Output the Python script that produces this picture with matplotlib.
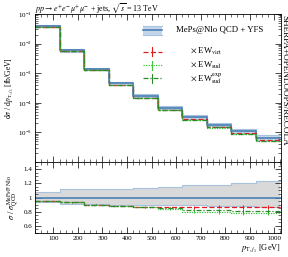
import numpy as np
import matplotlib
matplotlib.use("Agg")
import matplotlib.pyplot as plt
from matplotlib.ticker import FixedLocator, LogLocator, NullFormatter, MultipleLocator

plt.rcParams['font.family'] = ['Liberation Serif', 'DejaVu Serif']
plt.rcParams['mathtext.fontset'] = 'stix'
plt.rcParams['font.size'] = 5.5

# bin edges in pT of leading jet [GeV]
edges = [25, 125, 225, 325, 425, 525, 625, 725, 825, 925, 1025]
# MEPS@NLO QCD + YFS cross section [fb/GeV]
qcd = [0.038, 0.0059, 0.00138, 4.5e-4, 1.7e-4, 6.6e-5, 3.3e-5, 1.8e-5, 1.1e-5, 6.5e-6]
# relative uncertainty band of the QCD prediction
band_hi = [1.08, 1.12, 1.12, 1.12, 1.14, 1.15, 1.17, 1.18, 1.20, 1.23]
band_lo = [0.94, 0.91, 0.91, 0.90, 0.90, 0.90, 0.89, 0.88, 0.88, 0.87]
# ratios to QCD
r_virt = [0.95, 0.93, 0.90, 0.885, 0.87, 0.86, 0.86, 0.87, 0.87, 0.87]
r_sud = [0.95, 0.93, 0.90, 0.88, 0.86, 0.84, 0.80, 0.79, 0.78, 0.78]
r_sudexp = [0.95, 0.93, 0.90, 0.88, 0.86, 0.85, 0.82, 0.82, 0.81, 0.81]
err = [0.002, 0.003, 0.004, 0.005, 0.007, 0.01, 0.015, 0.02, 0.025, 0.03]

blue = '#4a7fb5'
lblue = '#a9c3df'
red = '#e41a1c'
lgreen = '#3cc43c'
dgreen = '#2a8a2a'


def step(ax, y, **kw):
    yy = list(y) + [y[-1]]
    return ax.step(edges, yy, where='post', **kw)


def band(ax, lo, hi, fc, ec):
    ax.fill_between(edges, list(lo) + [lo[-1]], list(hi) + [hi[-1]], step='post',
                    facecolor=fc, edgecolor='none')
    step(ax, lo, color=ec, lw=0.8)
    step(ax, hi, color=ec, lw=0.8)


centers = [(edges[i] + edges[i + 1]) / 2 for i in range(len(qcd))]

fig = plt.figure(figsize=(2.88, 2.57), dpi=100)
ax = fig.add_axes([35 / 288, 95 / 257, 246 / 288, 148 / 257])
axr = fig.add_axes([35 / 288, 24 / 257, 246 / 288, 71 / 257])

# main panel
q = np.array(qcd)
band(ax, q * np.array(band_lo), q * np.array(band_hi), '#c3d5ea', lblue)
step(ax, q, color=blue, lw=1.2)
styles = [(r_virt, red, (0, (4, 2))), (r_sud, lgreen, (0, (1, 1))), (r_sudexp, dgreen, (0, (4, 1.5, 1, 1.5)))]
for r, c, ls in styles:
    step(ax, q * np.array(r), color=c, lw=0.9, ls=ls)

ax.set_yscale('log')
ax.set_xlim(25, 1028)
ax.set_ylim(1e-6, 1e-1)
ax.yaxis.set_major_locator(FixedLocator([1e-5, 1e-4, 1e-3, 1e-2, 1e-1]))
ax.yaxis.set_minor_locator(LogLocator(base=10, subs=np.arange(2, 10), numticks=20))
ax.yaxis.set_minor_formatter(NullFormatter())
ax.set_xticklabels([])
ax.set_ylabel(r'd$\sigma$ / d$p_{\mathrm{T},j_1}$ [fb/GeV]', labelpad=2)
fig.text(35 / 288, 0.995, r'$pp \rightarrow e^{+}e^{-}\mu^{+}\mu^{-}$ + jets, $\sqrt{s}$ = 13 TeV',
         ha='left', va='top', fontsize=5.8)
fig.text(0.987, 0.94, 'SHERPA+OPENLOOPS/RECOLA', rotation=270, ha='center', va='top', fontsize=6.6)

# legend
lx0, lx1 = 0.44, 0.515
ys = [0.89, 0.745, 0.655, 0.565]
ax.fill_between([lx0, lx1], [ys[0] - 0.03] * 2, [ys[0] + 0.03] * 2, transform=ax.transAxes,
                facecolor='#c3d5ea', edgecolor='none')
for dy in (-0.03, 0.03):
    ax.plot([lx0, lx1], [ys[0] + dy] * 2, transform=ax.transAxes, color=lblue, lw=0.8)
ax.plot([lx0, lx1], [ys[0]] * 2, transform=ax.transAxes, color=blue, lw=1.2)
ax.text(0.575, ys[0], 'MePs@Nlo QCD + YFS', transform=ax.transAxes, va='center', fontsize=6.3)
labels = [r'$\times$ EW$_{\mathrm{virt}}$', r'$\times$ EW$_{\mathrm{sud}}$', r'$\times$ EW$_{\mathrm{sud}}^{\mathrm{exp}}$']
for (r, c, ls), y, lab in zip(styles, ys[1:], labels):
    ax.plot([lx0, lx1], [y, y], transform=ax.transAxes, color=c, lw=0.9, ls=ls)
    ax.plot([(lx0 + lx1) / 2] * 2, [y - 0.03, y + 0.03], transform=ax.transAxes, color=c, lw=0.8)
    ax.text(0.63, y, lab, transform=ax.transAxes, va='center', fontsize=6.3)

# ratio panel
band(axr, band_lo, band_hi, '#d9d9d9', lblue)
axr.axhline(1, color=blue, lw=1.2)
for r, c, ls in styles:
    step(axr, r, color=c, lw=0.9, ls=ls)
    axr.errorbar(centers, r, yerr=err, fmt='none', ecolor=c, elinewidth=0.7)

axr.set_xlim(25, 1028)
axr.set_ylim(0.5, 1.5)
axr.yaxis.set_major_locator(FixedLocator([0.6, 0.8, 1.0, 1.2, 1.4]))
axr.set_yticklabels(['0.6', '0.8', '1', '1.2', '1.4'])
axr.yaxis.set_minor_locator(MultipleLocator(0.05))
axr.set_xticks(range(100, 1001, 100))
axr.set_xlabel(r'$p_{\mathrm{T},j_1}$ [GeV]', loc='right', labelpad=1, fontsize=6)
axr.set_ylabel(r'$\sigma$ / $\sigma_{\mathrm{QCD}}^{\mathrm{MePs@Nlo}}$', labelpad=2, fontsize=6)

for a in (ax, axr):
    a.xaxis.set_minor_locator(MultipleLocator(25))
    a.tick_params(which='both', direction='in', top=True, right=True, labelsize=5, pad=2)
    a.tick_params(which='major', length=4, width=0.5)
    a.tick_params(which='minor', length=2, width=0.4)
    for s in a.spines.values():
        s.set_linewidth(0.6)
ax.xaxis.set_major_locator(MultipleLocator(100))

fig.savefig('out.png', dpi=100)
